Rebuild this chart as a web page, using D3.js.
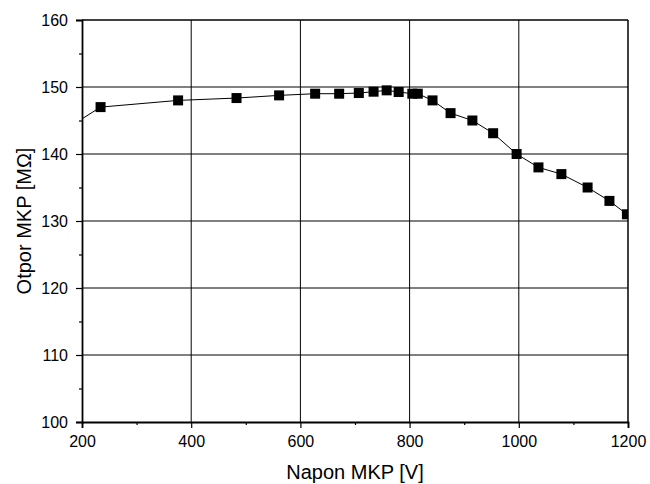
<!DOCTYPE html>
<html><head><meta charset="utf-8">
<script src="https://cdn.jsdelivr.net/npm/d3@7"></script>
<style>body{margin:0;background:#fff}svg{display:block}</style>
</head><body>
<script>
const voltage = [170, 234, 376, 483, 561, 627, 671, 707, 734, 758, 780, 805, 815, 842, 875, 915, 953, 996, 1036, 1078, 1126, 1166, 1198];
const resistance = [143.7, 147.0, 148.0, 148.35, 148.75, 149.0, 149.0, 149.1, 149.3, 149.5, 149.25, 149.0, 149.0, 148.0, 146.1, 145.0, 143.1, 140.0, 138.0, 137.0, 135.0, 133.0, 131.0];
const xTicks = [200, 400, 600, 800, 1000, 1200];
const yTicks = [100, 110, 120, 130, 140, 150, 160];
const xLabel = "Napon MKP [V]";
const yLabel = "Otpor MKP [MΩ]";

const W = 650, H = 484;
const m = {l: 82, r: 22, t: 20, b: 62};
const FONT = "Arial, 'Liberation Sans', sans-serif";
const svg = d3.select("body").append("svg").attr("width", W).attr("height", H)
  .style("font-family", FONT);
const x = d3.scaleLinear().domain([200, 1200]).range([m.l, W - m.r]);
const y = d3.scaleLinear().domain([100, 160]).range([H - m.b, m.t]);
const pw = W - m.l - m.r, ph = H - m.t - m.b;

// grid
svg.append("g").selectAll("line").data(xTicks.slice(1, -1)).join("line")
  .attr("x1", d => x(d)).attr("x2", d => x(d)).attr("y1", m.t).attr("y2", H - m.b)
  .attr("stroke", "#000").attr("stroke-width", 1);
svg.append("g").selectAll("line").data(yTicks.slice(1, -1)).join("line")
  .attr("y1", d => y(d)).attr("y2", d => y(d)).attr("x1", m.l).attr("x2", W - m.r)
  .attr("stroke", "#000").attr("stroke-width", 1);

// data
svg.append("clipPath").attr("id", "c").append("rect")
  .attr("x", m.l).attr("y", m.t).attr("width", pw).attr("height", ph);
const data = voltage.map((v, i) => [v, resistance[i]]);
const g = svg.append("g").attr("clip-path", "url(#c)");
g.append("path").datum(data)
  .attr("d", d3.line().x(d => x(d[0])).y(d => y(d[1])))
  .attr("fill", "none").attr("stroke", "#000").attr("stroke-width", 1);
const s = 10;
g.selectAll("rect.pt").data(data).join("rect").attr("class", "pt")
  .attr("x", d => x(d[0]) - s / 2).attr("y", d => y(d[1]) - s / 2)
  .attr("width", s).attr("height", s).attr("fill", "#000");

// axes
svg.append("g").attr("transform", `translate(0,${H - m.b})`)
  .call(d3.axisBottom(x).tickValues(xTicks).tickSize(6).tickPadding(8).tickFormat(d3.format("d")));
svg.append("g").attr("transform", `translate(0,${H - m.b})`)
  .call(d3.axisBottom(x).tickValues(d3.range(300, 1200, 200)).tickSize(3).tickFormat(""))
  .select(".domain").remove();
svg.append("g").attr("transform", `translate(${m.l},0)`)
  .call(d3.axisLeft(y).tickValues(yTicks).tickSize(6).tickPadding(8));
svg.append("g").attr("transform", `translate(${m.l},0)`)
  .call(d3.axisLeft(y).tickValues(d3.range(105, 160, 10)).tickSize(3).tickFormat(""))
  .select(".domain").remove();
svg.selectAll(".domain").attr("stroke-width", 1.8);
svg.selectAll(".tick text").attr("font-size", 16).attr("fill", "#000")
  .style("font-family", FONT);
svg.selectAll(".tick line").attr("stroke-width", 1.2);

// frame top/right
svg.append("line").attr("x1", m.l).attr("x2", W - m.r).attr("y1", m.t).attr("y2", m.t).attr("stroke", "#000").attr("stroke-width", 1.5);
svg.append("line").attr("x1", W - m.r).attr("x2", W - m.r).attr("y1", m.t).attr("y2", H - m.b).attr("stroke", "#000").attr("stroke-width", 1.5);

svg.append("text").attr("x", m.l + pw / 2).attr("y", 479).attr("text-anchor", "middle")
  .attr("font-size", 20).text(xLabel);
svg.append("text").attr("transform", `translate(31,${m.t + ph / 2}) rotate(-90)`)
  .attr("text-anchor", "middle").attr("font-size", 20).text(yLabel);
</script>
</body></html>
